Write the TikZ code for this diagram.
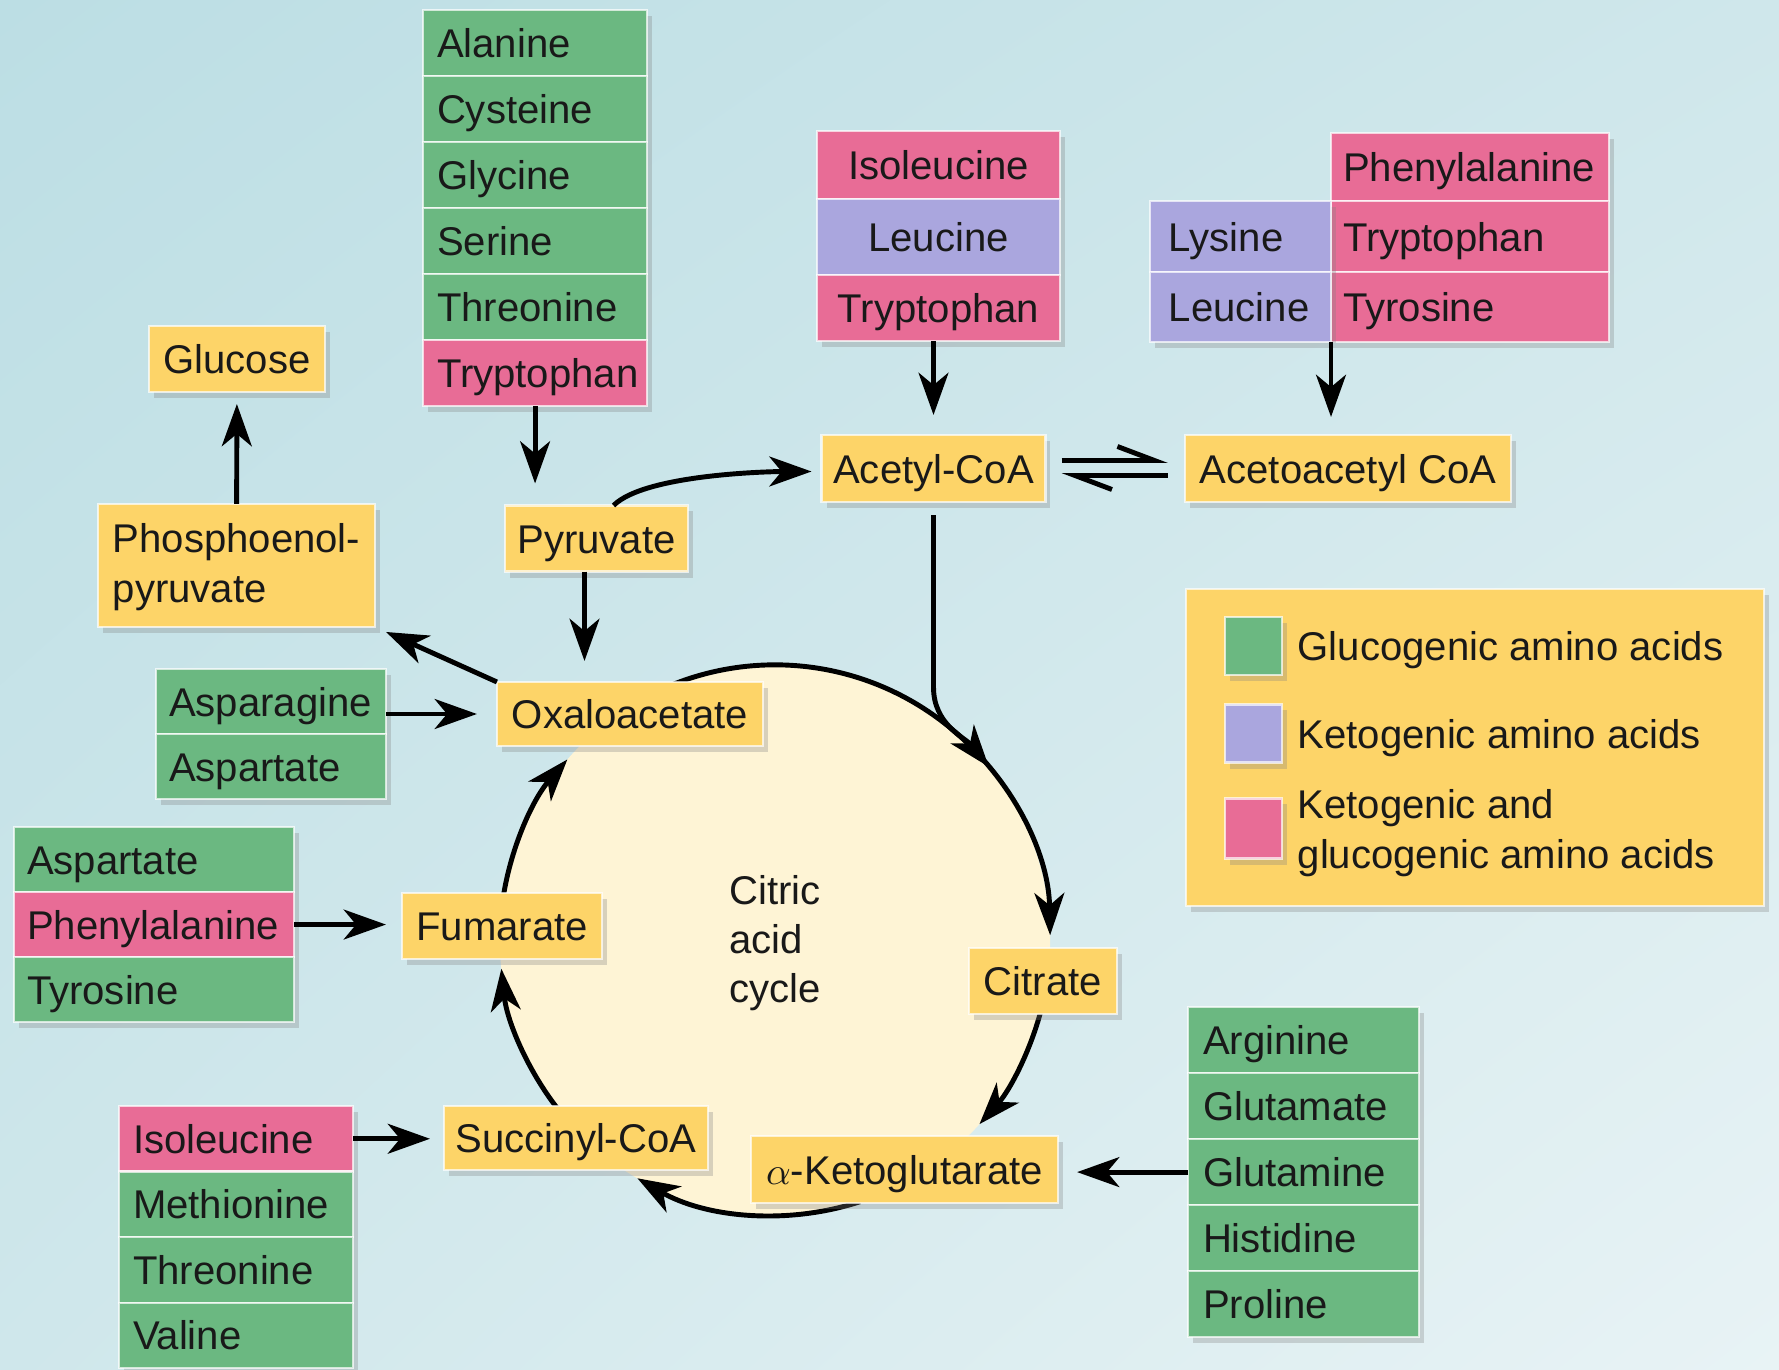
\documentclass[tikz,border=0pt]{standalone}
\usepackage{fontspec}
\setmainfont{Liberation Sans}
\usetikzlibrary{positioning,arrows.meta,shadows,shadings}

\definecolor{gluco}{RGB}{107,184,129}
\definecolor{keto}{RGB}{170,166,222}
\definecolor{both}{RGB}{232,108,150}
\definecolor{meta}{RGB}{253,212,104}
\definecolor{cream}{RGB}{254,244,213}
\definecolor{bgA}{RGB}{188,222,228}
\definecolor{bgB}{RGB}{207,231,235}
\definecolor{bgC}{RGB}{232,243,245}

\begin{document}
\begin{tikzpicture}[x=0.01cm,y=0.01cm,
  every node/.style={font=\fontsize{11.4pt}{14pt}\selectfont, text=black!90},
  box/.style={rectangle, draw=white, draw opacity=0.7, line width=0.6pt, outer sep=0pt,
    text height=0.29cm, text depth=0cm,
    drop shadow={shadow xshift=0.05cm, shadow yshift=-0.06cm, opacity=0.3}},
  cell/.style={box, anchor=north west, align=left, inner xsep=0.14cm, minimum height=0.66cm},
  gcell/.style={cell, fill=gluco},
  kcell/.style={cell, fill=keto},
  bcell/.style={cell, fill=both},
  met/.style={box, fill=meta, minimum height=0.66cm, align=center},
  lab/.style={anchor=west, inner sep=0pt, text height=0.29cm, text depth=0cm},
  arr/.style={-{Stealth[length=12pt,width=8.5pt,inset=3.5pt]}, line width=1.4pt},
  harp/.style={-{Straight Barb[harpoon,length=0.37cm,width=0.28cm]}, line width=1.4pt}]

%ozadje
\useasboundingbox (0,0) rectangle (1779,1369);
\shade[upper left=bgA, upper right=bgB, lower left=bgB, lower right=bgC] (0,0) rectangle (1779,1369);

%cikel citronske kisline
\node[circle, fill=cream, minimum size=5.5cm, inner sep=0pt, outer sep=0pt, align=left,
  text height=1.27cm, text depth=0.02cm] (cyc) at (775,429) {Citric\\acid\\cycle};
\draw[arr] (cyc.115) arc[start angle=115, end angle=1, radius=2.75cm];
\draw[arr] (cyc.-14) arc[start angle=-14, end angle=-42, radius=2.75cm];
\draw[arr] (cyc.-72) arc[start angle=-72, end angle=-120, radius=2.75cm];
\draw[arr] (cyc.-142) arc[start angle=-142, end angle=-174, radius=2.75cm];
\draw[arr] (cyc.172) arc[start angle=172, end angle=139, radius=2.75cm];

%presnovki
\node[met, minimum width=1.76cm] (glc) at (237,1010) {Glucose};
\node[met, minimum width=2.77cm, minimum height=1.23cm, align=left, inner xsep=0.12cm,
  text height=0.77cm, text depth=0.04cm] (pep) at (236.5,803.5) {Phosphoenol-\\pyruvate};
\node[met, minimum width=1.83cm] (pyr) at (596.5,830.5) {Pyruvate};
\node[met, minimum width=2.21cm, minimum height=0.67cm] (acet) at (933.5,900.5) {Acetyl-CoA};
\node[met, minimum width=3.26cm, minimum height=0.67cm] (acac) at (1348,900.5) {Acetoacetyl CoA};
\node[met, minimum width=2.66cm, minimum height=0.64cm] (oxa) at (630,655) {Oxaloacetate};
\node[met, minimum width=2.00cm] (fum) at (502,443) {Fumarate};
\node[met, minimum width=2.62cm, minimum height=0.64cm] (suc) at (576,231) {Succinyl-CoA};
\node[met, minimum width=3.07cm, minimum height=0.67cm] (akg) at (904.5,199.5) {$\alpha$-Ketoglutarate};
\node[met, minimum width=1.48cm] (cit) at (1043,388) {Citrate};

%stolpec nad piruvatom
\node[gcell, text width=1.96cm] (ala) at (423,1359) {Alanine};
\node[gcell, text width=1.96cm, below=0pt of ala] (cys) {Cysteine};
\node[gcell, text width=1.96cm, below=0pt of cys] (gly) {Glycine};
\node[gcell, text width=1.96cm, below=0pt of gly] (ser) {Serine};
\node[gcell, text width=1.96cm, below=0pt of ser] (thrA) {Threonine};
\node[bcell, text width=1.96cm, below=0pt of thrA] (trpA) {Tryptophan};

%stolpec nad acetil-CoA
\node[bcell, align=center, text width=2.15cm, minimum height=0.68cm] (ileB) at (817,1238) {Isoleucine};
\node[kcell, align=center, text width=2.15cm, minimum height=0.76cm, below=0pt of ileB] (leuB) {Leucine};
\node[bcell, align=center, text width=2.15cm, minimum height=0.66cm, below=0pt of leuB] (trpB) {Tryptophan};

%stolpec nad acetoacetil CoA
\node[bcell, text width=2.54cm, inner xsep=0.12cm, minimum height=0.68cm] (pheC) at (1331,1236) {Phenylalanine};
\node[bcell, text width=2.54cm, inner xsep=0.12cm, minimum height=0.71cm, below=0pt of pheC] (trpC) {Tryptophan};
\node[bcell, text width=2.54cm, inner xsep=0.12cm, minimum height=0.70cm, below=0pt of trpC] (tyrC) {Tyrosine};
\node[kcell, text width=1.43cm, inner xsep=0.19cm, minimum height=0.71cm, left=0pt of trpC] (lysC) {Lysine};
\node[kcell, text width=1.43cm, inner xsep=0.19cm, minimum height=0.70cm, below=0pt of lysC] (leuC) {Leucine};

%levi stolpci
\node[gcell, text width=2.04cm, inner xsep=0.13cm, minimum height=0.65cm] (asn) at (156,700) {Asparagine};
\node[gcell, text width=2.04cm, inner xsep=0.13cm, minimum height=0.65cm, below=0pt of asn] (aspA) {Aspartate};

\node[gcell, text width=2.54cm, inner xsep=0.13cm, minimum height=0.65cm] (aspD) at (14,542) {Aspartate};
\node[bcell, text width=2.54cm, inner xsep=0.13cm, minimum height=0.65cm, below=0pt of aspD] (pheD) {Phenylalanine};
\node[gcell, text width=2.54cm, inner xsep=0.13cm, minimum height=0.65cm, below=0pt of pheD] (tyrD) {Tyrosine};

\node[bcell, text width=2.06cm, minimum height=0.655cm] (ileE) at (119,263) {Isoleucine};
\node[gcell, text width=2.06cm, minimum height=0.655cm, below=0pt of ileE] (metE) {Methionine};
\node[gcell, text width=2.06cm, minimum height=0.655cm, below=0pt of metE] (thrE) {Threonine};
\node[gcell, text width=2.06cm, minimum height=0.655cm, below=0pt of thrE] (valE) {Valine};

%desni stolpec
\node[gcell, text width=2.01cm, inner xsep=0.15cm] (argF) at (1188,362) {Arginine};
\node[gcell, text width=2.01cm, inner xsep=0.15cm, below=0pt of argF] (gluF) {Glutamate};
\node[gcell, text width=2.01cm, inner xsep=0.15cm, below=0pt of gluF] (glnF) {Glutamine};
\node[gcell, text width=2.01cm, inner xsep=0.15cm, below=0pt of glnF] (hisF) {Histidine};
\node[gcell, text width=2.01cm, inner xsep=0.15cm, below=0pt of hisF] (proF) {Proline};

%legenda
\node[box, fill=meta, minimum width=5.78cm, minimum height=3.17cm] (leg) at (1475,621.5) {};
\node[box, fill=gluco, minimum width=0.57cm, minimum height=0.58cm, text height=, text depth=] (swg) at (1253.5,723) {};
\node[box, fill=keto, minimum width=0.57cm, minimum height=0.58cm, text height=, text depth=] (swk) at (1253.5,635.5) {};
\node[box, fill=both, minimum width=0.57cm, minimum height=0.6cm, text height=, text depth=] (swb) at (1253.5,540.5) {};
\node[lab] (lgg) at (1297,723) {Glucogenic amino acids};
\node[lab] (lgk) at (1297,635) {Ketogenic amino acids};
\node[lab, align=left, text height=0.77cm, text depth=0cm] (lgb) at (1297,539.5) {Ketogenic and\\glucogenic amino acids};

%puscice
\draw[arr, shorten >=0.22cm] (trpA) -- (trpA |- pyr.north);
\draw[arr, shorten >=0.12cm] (pep) -- (glc);
\draw[arr, shorten >=0.21cm] ([xshift=-0.12cm]pyr.south) -- ([xshift=-0.12cm]pyr.south |- oxa.north);
\draw[arr, shorten >=0.1cm] ([xshift=0.17cm]pyr.north) to[out=45,in=180,looseness=0.55] ([yshift=-0.03cm]acet.west);
\draw[arr, shorten >=0.2cm] (trpB.south -| acet.north) -- (acet.north);
\draw[arr, shorten >=0.18cm] (tyrC.south west) -- (tyrC.south west |- acac.north);
\draw[harp] ([shift={(0.16cm,0.08cm)}]acet.east) -- ([shift={(-0.17cm,0.08cm)}]acac.west);
\draw[harp] ([shift={(-0.17cm,-0.07cm)}]acac.west) -- ([shift={(0.16cm,-0.07cm)}]acet.east);
\draw[arr] ([yshift=-0.13cm]acet.south) -- ++(0cm,-1.72cm) to[out=-90,in=129] (cyc.39);
\draw[arr, shorten >=0.12cm] (oxa.north west) -- (pep.south east);
\draw[arr, shorten >=0.2cm] (asn.east |- oxa) -- (oxa.west);
\draw[arr, shorten >=0.16cm] (pheD.east) -- (pheD.east -| fum.west);
\draw[arr, shorten >=0.14cm] (ileE.east) -- (ileE.east -| suc.west);
\draw[arr, shorten >=0.19cm] (glnF.west) -- (glnF.west -| akg.east);

\end{tikzpicture}
\end{document}
